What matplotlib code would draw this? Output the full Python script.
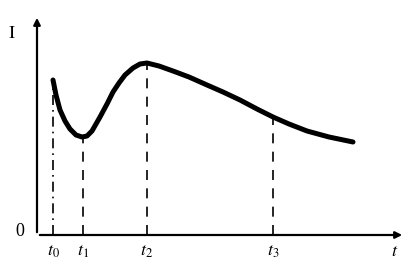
import matplotlib
matplotlib.use("Agg")
import matplotlib.pyplot as plt

# curve I(t)
t_vals = [16, 19, 23, 28, 33, 39, 45, 50, 55, 63, 70, 76, 82, 88, 96, 103, 110,
          122, 136, 152, 170, 186, 203, 220, 236, 252, 270, 292, 316]
i_vals = [155, 140, 125, 114, 106, 100, 98, 99, 104, 118, 131, 143, 152, 160, 167, 171, 172,
          169, 164, 158, 150, 143, 135, 126, 118, 111, 104, 98, 93]

marks = [16, 46, 110, 236]
mark_labels = [r"$t_0$", r"$t_1$", r"$t_2$", r"$t_3$"]
mark_levels = [155, 98, 172, 118]

plt.rcParams["mathtext.fontset"] = "stix"

fig = plt.figure(figsize=(4.15, 2.76), dpi=100)
ax = fig.add_axes([37 / 415, 41 / 276, 368 / 415, 220 / 276])
ax.set_xlim(0, 368)
ax.set_ylim(0, 220)
ax.axis("off")

ax.plot(t_vals, i_vals, color="black", lw=3.6, solid_capstyle="round",
        solid_joinstyle="round", clip_on=False)

styles = ["-.", "--", "--", "--"]
for x, lvl, ls in zip(marks, mark_levels, styles):
    ax.plot([x, x], [0, lvl], color="black", lw=1.2, ls=ls, dashes=(6, 5) if ls == "--" else (6, 3, 1, 3))

# axes with arrows
ax.annotate("", xy=(368, 0), xytext=(0, 0),
            arrowprops=dict(arrowstyle="-|>", color="black", lw=1.6, mutation_scale=10),
            annotation_clip=False)
ax.annotate("", xy=(0, 220), xytext=(0, 0),
            arrowprops=dict(arrowstyle="-|>", color="black", lw=1.6, mutation_scale=10),
            annotation_clip=False)

for x, lab in zip(marks, mark_labels):
    ax.text(x, -16, lab, ha="center", va="center", fontsize=13, clip_on=False)
ax.text(358, -16, r"$t$", ha="center", va="center", fontsize=13)
ax.text(-25, 202, r"$\mathrm{I}$", ha="center", va="center", fontsize=13)
ax.text(-17, 3, "0", ha="center", va="center", fontsize=13, family="Liberation Serif")

fig.savefig("out.png", dpi=100)
